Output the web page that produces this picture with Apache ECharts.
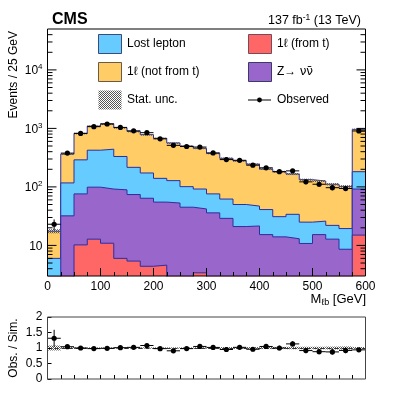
<!DOCTYPE html>
<html>
<head>
<meta charset="utf-8">
<script src="https://cdn.jsdelivr.net/npm/echarts@6/dist/echarts.min.js"></script>
<style>
  html, body { margin: 0; padding: 0; background: #fff; }
  #chart { width: 407px; height: 393px; }
</style>
</head>
<body>
<div id="chart"></div>
<script>
// M_lb bins, 25 GeV wide (left edges)
const binWidth = 25;
const binLow = [0, 25, 50, 75, 100, 125, 150, 175, 200, 225, 250, 275,
                300, 325, 350, 375, 400, 425, 450, 475, 500, 525, 550, 575];

// simulated backgrounds (events / bin)
const oneLepFromT = [0.5, 1, 10.2, 12.8, 10.9, 6.0, 5.4, 4.4, 4.6, 2.5, 2.5, 3.4,
                     2, 2, 2, 1.5, 1.5, 1.5, 1.5, 1, 1, 1, 1, 15];
const zNuNu = [1.5, 31, 65.8, 86.2, 81.1, 83, 68.6, 59.6, 50.4, 50.5, 42.5, 38.6,
               34, 27, 19, 20, 13.8, 12.5, 11.5, 9.8, 14.3, 11.8, 7.6, 77];
const lostLepton = [4, 85, 214, 325, 349, 242, 142, 109, 85, 75, 56, 50,
                    40, 33, 29, 25.5, 25.7, 17, 21, 14.2, 10.7, 9.2, 10.8, 90];
const oneLepNotFromT = [11.5, 246, 532, 670, 759, 699, 674, 609, 538, 436, 399, 365,
                        298, 246, 229, 198, 161, 151, 132, 108, 100, 89, 82.6, 780];
// relative MC stat. uncertainty
const statUnc = [0.08, 0.03, 0.02, 0.02, 0.02, 0.02, 0.02, 0.02, 0.02, 0.02, 0.02, 0.025,
                 0.025, 0.03, 0.03, 0.03, 0.035, 0.035, 0.04, 0.04, 0.04, 0.045, 0.05, 0.03];
// data
const observed = [23, 378, 822, 1072, 1188, 1040, 908, 845, 664, 513, 490, 480,
                  381, 293, 285, 235, 212, 182, 188, 122, 111, 97, 94, 904];

// axis labels
const xTickLabels = [0, 100, 200, 300, 400, 500, 600];
const ratioTickLabels = [0, 0.5, 1, 1.5, 2];

const FONT = '"Liberation Sans", Arial, Helvetica, sans-serif';
const EDGE = '#2e2e9e';
const COL = { lost: '#66ccff', fromT: '#ff6666', notFromT: '#ffcc66', znn: '#9966cc' };

// cumulative stack tops
const cumRed = oneLepFromT.slice();
const cumPurple = cumRed.map((v, i) => v + zNuNu[i]);
const cumBlue = cumPurple.map((v, i) => v + lostLepton[i]);
const total = cumBlue.map((v, i) => v + oneLepNotFromT[i]);
const binCenter = binLow.map(x => x + binWidth / 2);
const xMax = binLow[binLow.length - 1] + binWidth;

// grey checkered fill for stat. unc.
const hatch = (function () {
  const c = document.createElement('canvas');
  c.width = 2; c.height = 2;
  const g = c.getContext('2d');
  g.fillStyle = '#555';
  g.fillRect(0, 0, 1, 1);
  g.fillRect(1, 1, 1, 1);
  return { image: c, repeat: 'repeat' };
})();

function stepData(vals) {
  const d = binLow.map((x, i) => [x, vals[i]]);
  d.push([xMax, vals[vals.length - 1]]);
  return d;
}

function layer(name, vals, color, z) {
  return {
    name: name, type: 'line', xAxisIndex: 0, yAxisIndex: 0,
    step: 'end', symbol: 'none', z: z, silent: true,
    data: stepData(vals),
    lineStyle: { color: EDGE, width: 1 },
    areaStyle: { color: color, opacity: 1, origin: 'start' }
  };
}

// log ticks for main panel (both sides)
const yTicks = [];
for (let k = 0; k <= 4; k++) {
  for (let m = 1; m <= 9; m++) {
    const v = m * Math.pow(10, k);
    if (v > 3 && v < 50000) yTicks.push([0, v, m === 1 ? 9 : 5]);
  }
}

function errorMark(api, x, y, e) {
  const c = api.coord([x, y]);
  const l = api.coord([x - binWidth / 2, y]);
  const r = api.coord([x + binWidth / 2, y]);
  const hi = api.coord([x, y + e]);
  const lo = api.coord([x, Math.max(y - e, 1e-3)]);
  return {
    type: 'group', children: [
      { type: 'line', shape: { x1: l[0], y1: c[1], x2: r[0], y2: c[1] }, style: { stroke: '#000', lineWidth: 1 } },
      { type: 'line', shape: { x1: c[0], y1: hi[1], x2: c[0], y2: lo[1] }, style: { stroke: '#000', lineWidth: 1 } },
      { type: 'circle', shape: { cx: c[0], cy: c[1], r: 2.6 }, style: { fill: '#000' } }
    ]
  };
}

const main = { left: 47.5, top: 29, width: 318, height: 247 };
const ratio = { left: 47.5, top: 317, width: 318, height: 62 };

const chart = echarts.init(document.getElementById('chart'));

const option = {
  animation: false,
  backgroundColor: '#fff',
  textStyle: { fontFamily: FONT },
  grid: [
    { left: main.left, top: main.top, width: main.width, height: main.height,
      containLabel: false, outerBoundsMode: 'none' },
    { left: ratio.left, top: ratio.top, width: ratio.width, height: ratio.height,
      containLabel: false, outerBoundsMode: 'none' }
  ],
  xAxis: [
    {
      type: 'value', gridIndex: 0, min: 0, max: 600, interval: 100, z: 10,
      axisLine: { show: false },
      axisTick: { inside: true, length: 8, lineStyle: { color: '#000' } },
      minorTick: { show: true, splitNumber: 4, length: 4, lineStyle: { color: '#000' } },
      splitLine: { show: false },
      axisLabel: {
        margin: 5, color: '#000', fontSize: 12, fontFamily: FONT,
        formatter: v => (xTickLabels.indexOf(v) >= 0 ? String(v) : '')
      }
    },
    {
      type: 'value', gridIndex: 1, min: 0, max: 600, interval: 25, z: 10,
      axisLine: { show: false },
      axisTick: { inside: true, length: 4, lineStyle: { color: '#000' } },
      splitLine: { show: false },
      axisLabel: { show: false }
    }
  ],
  yAxis: [
    {
      type: 'log', gridIndex: 0, min: 3, max: 50000, logBase: 10, z: 10,
      axisLine: { show: false },
      axisTick: { show: false },
      splitLine: { show: false },
      axisLabel: {
        showMinLabel: false, showMaxLabel: false, margin: 5,
        color: '#000', fontSize: 12, fontFamily: FONT,
        formatter: function (v) {
          const k = Math.round(Math.log10(v));
          if (Math.abs(Math.pow(10, k) - v) > 1e-6 * v) return '';
          if (k === 1) return '{b|10}';
          return '{b|10}{sup|' + k + '}';
        },
        rich: {
          b: { fontSize: 12, fontFamily: FONT, color: '#000', lineHeight: 14, verticalAlign: 'bottom' },
          sup: { fontSize: 8, fontFamily: FONT, color: '#000', lineHeight: 6, verticalAlign: 'top' }
        }
      }
    },
    {
      type: 'value', gridIndex: 1, min: 0, max: 2, interval: 0.5, z: 10,
      axisLine: { show: false },
      axisTick: { inside: true, length: 4, lineStyle: { color: '#000' } },
      splitLine: { show: false },
      axisLabel: {
        margin: 5, color: '#000', fontSize: 12, fontFamily: FONT,
        formatter: v => (ratioTickLabels.indexOf(v) >= 0 ? String(v) : '')
      }
    }
  ],
  series: [
    layer('1ℓ (not from t)', total, COL.notFromT, 2),
    layer('Lost lepton', cumBlue, COL.lost, 3),
    layer('Z→ νν̄', cumPurple, COL.znn, 4),
    layer('1ℓ (from t)', cumRed, COL.fromT, 5),
    {
      name: 'Stat. unc.', type: 'custom', xAxisIndex: 0, yAxisIndex: 0, z: 6, clip: true, silent: true,
      data: binLow.map((x, i) => [x, total[i] * (1 - statUnc[i]), total[i] * (1 + statUnc[i])]),
      renderItem: function (params, api) {
        const p0 = api.coord([api.value(0), api.value(2)]);
        const p1 = api.coord([api.value(0) + binWidth, api.value(1)]);
        return {
          type: 'rect',
          shape: { x: p0[0], y: p0[1], width: p1[0] - p0[0], height: Math.max(p1[1] - p0[1], 1.5) },
          style: { fill: hatch }
        };
      }
    },
    {
      name: 'Observed', type: 'custom', xAxisIndex: 0, yAxisIndex: 0, z: 10, clip: true, silent: true,
      data: binCenter.map((x, i) => [x, observed[i]]),
      renderItem: function (params, api) {
        const n = api.value(1);
        return errorMark(api, api.value(0), n, Math.sqrt(n));
      }
    },
    {
      name: 'log ticks', type: 'custom', xAxisIndex: 0, yAxisIndex: 0, z: 20, silent: true,
      data: yTicks,
      renderItem: function (params, api) {
        const v = api.value(1), len = api.value(2);
        const l = api.coord([0, v]);
        const r = api.coord([600, v]);
        return {
          type: 'group', children: [
            { type: 'line', shape: { x1: l[0], y1: l[1], x2: l[0] + len, y2: l[1] }, style: { stroke: '#000', lineWidth: 1 } },
            { type: 'line', shape: { x1: r[0], y1: r[1], x2: r[0] - len, y2: r[1] }, style: { stroke: '#000', lineWidth: 1 } }
          ]
        };
      }
    },
    {
      name: 'ratio unc', type: 'custom', xAxisIndex: 1, yAxisIndex: 1, z: 3, clip: true, silent: true,
      data: binLow.map((x, i) => [x, 1 - statUnc[i], 1 + statUnc[i]]),
      renderItem: function (params, api) {
        const p0 = api.coord([api.value(0), api.value(2)]);
        const p1 = api.coord([api.value(0) + binWidth, api.value(1)]);
        return {
          type: 'rect',
          shape: { x: p0[0], y: p0[1], width: p1[0] - p0[0], height: p1[1] - p0[1] },
          style: { fill: hatch }
        };
      },
      markLine: {
        silent: true, symbol: 'none', label: { show: false },
        lineStyle: { color: '#333', type: [4, 3], width: 1 },
        data: [{ yAxis: 1 }]
      }
    },
    {
      name: 'ratio', type: 'custom', xAxisIndex: 1, yAxisIndex: 1, z: 10, clip: true, silent: true,
      data: binCenter.map((x, i) => [x, observed[i] / total[i], Math.sqrt(observed[i]) / total[i]]),
      renderItem: function (params, api) {
        return errorMark(api, api.value(0), api.value(1), api.value(2));
      }
    }
  ],
  graphic: [
    // frames
    { type: 'rect', z: 100, silent: true,
      shape: { x: main.left, y: main.top, width: main.width, height: main.height },
      style: { fill: null, stroke: '#000', lineWidth: 1 } },
    { type: 'rect', z: 100, silent: true,
      shape: { x: ratio.left, y: ratio.top, width: ratio.width, height: ratio.height },
      style: { fill: null, stroke: '#444', lineWidth: 1 } },
    // header
    { type: 'text', x: 52, y: 20, z: 100,
      style: { text: 'CMS', fontFamily: FONT, fontSize: 16, fontWeight: 'bold', fill: '#000',
               align: 'left', verticalAlign: 'middle' } },
    { type: 'text', x: 361, y: 20, z: 100,
      style: { text: '{b|137 fb}{sup|-1}{b| (13 TeV)}', align: 'right', verticalAlign: 'middle',
               rich: {
                 b: { fontFamily: FONT, fontSize: 12.5, fill: '#000', lineHeight: 14, verticalAlign: 'bottom' },
                 sup: { fontFamily: FONT, fontSize: 8.5, fill: '#000', lineHeight: 6, verticalAlign: 'top' }
               } } },
    // axis titles
    { type: 'text', x: 14, y: 31, rotation: Math.PI / 2, z: 100,
      style: { text: 'Events / 25 GeV', fontFamily: FONT, fontSize: 12, fill: '#000',
               align: 'right', verticalAlign: 'middle' } },
    { type: 'text', x: 14, y: 348, rotation: Math.PI / 2, z: 100,
      style: { text: 'Obs. / Sim.', fontFamily: FONT, fontSize: 12, fill: '#000',
               align: 'center', verticalAlign: 'middle' } },
    { type: 'text', x: 366, y: 300, z: 100,
      style: { text: '{b|M}{sub|ℓb}{b| [GeV]}', align: 'right', verticalAlign: 'middle',
               rich: {
                 b: { fontFamily: FONT, fontSize: 13, fill: '#000', lineHeight: 15, verticalAlign: 'top' },
                 sub: { fontFamily: FONT, fontSize: 9, fill: '#000', lineHeight: 6, verticalAlign: 'bottom' }
               } } },
    // legend
    { type: 'rect', z: 100, shape: { x: 98.5, y: 34.5, width: 23, height: 19 },
      style: { fill: COL.lost, stroke: '#3d4a7a', lineWidth: 1 } },
    { type: 'text', x: 127, y: 44, z: 100,
      style: { text: 'Lost lepton', fontFamily: FONT, fontSize: 12, fill: '#000', verticalAlign: 'middle' } },
    { type: 'rect', z: 100, shape: { x: 98.5, y: 62.5, width: 23, height: 19 },
      style: { fill: COL.notFromT, stroke: '#6a5a4a', lineWidth: 1 } },
    { type: 'text', x: 127, y: 72, z: 100,
      style: { text: '1ℓ (not from t)', fontFamily: FONT, fontSize: 12, fill: '#000', verticalAlign: 'middle' } },
    { type: 'rect', z: 100, shape: { x: 98.5, y: 90.5, width: 23, height: 19 },
      style: { fill: hatch, stroke: null } },
    { type: 'text', x: 127, y: 100, z: 100,
      style: { text: 'Stat. unc.', fontFamily: FONT, fontSize: 12, fill: '#000', verticalAlign: 'middle' } },
    { type: 'rect', z: 100, shape: { x: 248.5, y: 34.5, width: 23, height: 19 },
      style: { fill: COL.fromT, stroke: '#7a4a5a', lineWidth: 1 } },
    { type: 'text', x: 277, y: 44, z: 100,
      style: { text: '1ℓ (from t)', fontFamily: FONT, fontSize: 12, fill: '#000', verticalAlign: 'middle' } },
    { type: 'rect', z: 100, shape: { x: 248.5, y: 62.5, width: 23, height: 19 },
      style: { fill: COL.znn, stroke: '#3d3a6a', lineWidth: 1 } },
    { type: 'text', x: 277, y: 72, z: 100,
      style: { text: '{b|Z→ }{nu|νν̄}', verticalAlign: 'middle',
               rich: {
                 b: { fontFamily: FONT, fontSize: 12, fill: '#000' },
                 nu: { fontFamily: '"DejaVu Sans", sans-serif', fontSize: 12, fill: '#000' }
               } } },
    { type: 'line', z: 100, shape: { x1: 248, y1: 100, x2: 271, y2: 100 },
      style: { stroke: '#000', lineWidth: 1 } },
    { type: 'circle', z: 100, shape: { cx: 259.5, cy: 100, r: 2.4 }, style: { fill: '#000' } },
    { type: 'text', x: 277, y: 100, z: 100,
      style: { text: 'Observed', fontFamily: FONT, fontSize: 12, fill: '#000', verticalAlign: 'middle' } }
  ]
};

chart.setOption(option);
</script>
</body>
</html>
